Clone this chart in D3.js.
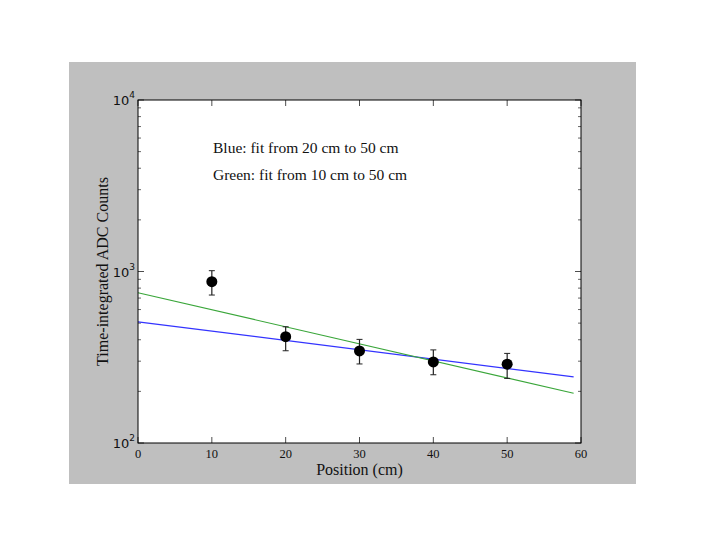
<!DOCTYPE html>
<html><head><meta charset="utf-8">
<script src="https://cdn.jsdelivr.net/npm/d3@7"></script>
<style>html,body{margin:0;padding:0;background:#fff;}</style>
</head><body>
<svg id="c" width="706" height="546"></svg>
<script>
const positions = [10, 20, 30, 40, 50];
const counts = [872, 417, 344, 297, 288];
const errLow = [729, 345, 289, 250, 238];
const errHigh = [1011, 476, 402, 349, 333];
const blueFit = [[0, 509], [59, 243]];
const greenFit = [[0, 752], [59, 195]];
const xTicks = [0, 10, 20, 30, 40, 50, 60];
const yMajor = [100, 1000, 10000];
const yMajorExp = ["2", "3", "4"];
const notes = ["Blue: fit from 20 cm to 50 cm", "Green: fit from 10 cm to 50 cm"];

const svg = d3.select("#c");
svg.append("rect").attr("x", 69).attr("y", 62).attr("width", 567).attr("height", 422).attr("fill", "#bfbfbf");

const L = 138, R = 581, T = 100, B = 443;
const x = d3.scaleLinear().domain([0, 60]).range([L, R]);
const y = d3.scaleLog().domain([100, 10000]).range([B, T]);

svg.append("rect").attr("x", L).attr("y", T).attr("width", R - L).attr("height", B - T).attr("fill", "#fff");

const g = svg.append("g");
const minor = [];
for (let e = 2; e < 4; e++) for (let m = 2; m <= 9; m++) minor.push(m * Math.pow(10, e));
minor.forEach(v => {
  g.append("line").attr("x1", L).attr("x2", L + 3).attr("y1", y(v)).attr("y2", y(v)).attr("stroke", "#000").attr("stroke-width", 0.6);
  g.append("line").attr("x1", R).attr("x2", R - 3).attr("y1", y(v)).attr("y2", y(v)).attr("stroke", "#000").attr("stroke-width", 0.6);
});
yMajor.forEach(v => {
  g.append("line").attr("x1", L).attr("x2", L + 6).attr("y1", y(v)).attr("y2", y(v)).attr("stroke", "#000").attr("stroke-width", 0.7);
  g.append("line").attr("x1", R).attr("x2", R - 6).attr("y1", y(v)).attr("y2", y(v)).attr("stroke", "#000").attr("stroke-width", 0.7);
});
xTicks.forEach(v => {
  g.append("line").attr("x1", x(v)).attr("x2", x(v)).attr("y1", B).attr("y2", B - 6).attr("stroke", "#000").attr("stroke-width", 0.7);
  g.append("line").attr("x1", x(v)).attr("x2", x(v)).attr("y1", T).attr("y2", T + 6).attr("stroke", "#000").attr("stroke-width", 0.7);
});

const line = d3.line().x(d => x(d[0])).y(d => y(d[1]));
svg.append("path").attr("d", line(blueFit)).attr("fill", "none").attr("stroke", "#3333ff").attr("stroke-width", 1.2);
svg.append("path").attr("d", line(greenFit)).attr("fill", "none").attr("stroke", "#3aa63a").attr("stroke-width", 1.2);

positions.forEach((p, i) => {
  const cx = x(p);
  svg.append("line").attr("x1", cx).attr("x2", cx).attr("y1", y(errLow[i])).attr("y2", y(errHigh[i])).attr("stroke", "#222").attr("stroke-width", 1.2);
  [errLow[i], errHigh[i]].forEach(v => svg.append("line").attr("x1", cx - 3).attr("x2", cx + 3).attr("y1", y(v)).attr("y2", y(v)).attr("stroke", "#222").attr("stroke-width", 1));
  svg.append("circle").attr("cx", cx).attr("cy", y(counts[i])).attr("r", 5.5).attr("fill", "#000");
});

svg.append("rect").attr("x", L).attr("y", T).attr("width", R - L).attr("height", B - T).attr("fill", "none").attr("stroke", "#000").attr("stroke-width", 1);

xTicks.forEach(v => {
  svg.append("text").attr("x", x(v)).attr("y", B + 15).attr("text-anchor", "middle")
    .attr("font-family", "Liberation Serif, serif").attr("font-size", 12.5).attr("fill", "#111").text(v);
});
yMajor.forEach((v, i) => {
  const t = svg.append("text").attr("x", L - 3).attr("y", y(v) + 5).attr("text-anchor", "end")
    .attr("font-family", "DejaVu Sans, sans-serif").attr("font-size", 13).attr("fill", "#111");
  t.append("tspan").text("10");
  t.append("tspan").attr("dy", -7).attr("font-size", 9).text(yMajorExp[i]);
});

svg.append("text").attr("x", (L + R) / 2).attr("y", 475).attr("text-anchor", "middle")
  .attr("font-family", "Liberation Serif, serif").attr("font-size", 16).attr("fill", "#111").text("Position (cm)");
svg.append("text").attr("transform", `translate(108,${(T + B) / 2}) rotate(-90)`).attr("text-anchor", "middle")
  .attr("font-family", "Liberation Serif, serif").attr("font-size", 16).attr("fill", "#111").text("Time-integrated ADC Counts");

notes.forEach((n, i) => {
  svg.append("text").attr("x", 213).attr("y", 152.5 + i * 27)
    .attr("font-family", "Liberation Serif, serif").attr("font-size", 15.5).attr("fill", "#111").text(n);
});
</script>
</body></html>
